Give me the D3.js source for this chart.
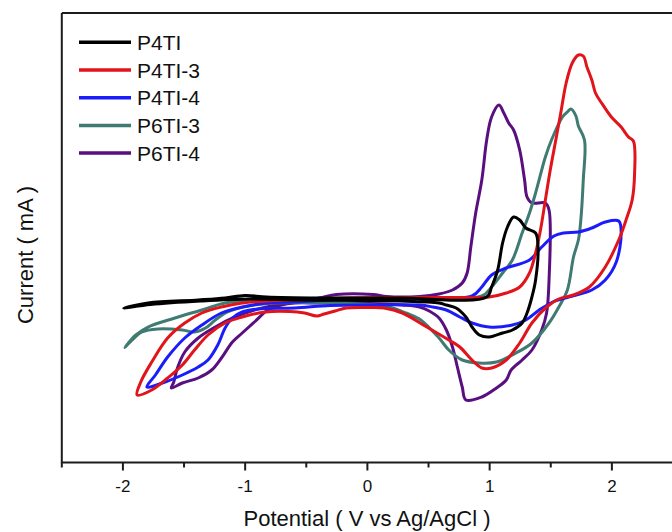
<!DOCTYPE html>
<html>
<head>
<meta charset="utf-8">
<script src="https://cdn.jsdelivr.net/npm/d3@7"></script>
<style>
  html, body { margin: 0; padding: 0; background: #fff; }
  svg { display: block; }
</style>
</head>
<body>
<svg id="chart" width="672" height="532"></svg>
<script>
// Cyclic voltammograms: [potential (V vs Ag/AgCl), current (mA, relative)]
const seriesNames = ["P4TI", "P4TI-3", "P4TI-4", "P6TI-3", "P6TI-4"];
const seriesColors = ["#000000", "#e1141c", "#1c1cfa", "#3f7a73", "#5a0f80"];
const xMajorTicks = [-2, -1, 0, 1, 2];
const xMinorTicks = [-2.5, -1.5, -0.5, 0.5, 1.5, 2.5];

const p4ti = [
  [-1.99, -0.08], [-1.79, -0.03], [-1.38, 0.00], [-1.16, 0.02], [-1.00, 0.045], [-0.82, 0.03],
  [-0.39, 0.02], [0.27, 0.02], [0.98, 0.03], [1.02, 0.13], [1.07, 0.30], [1.11, 0.57],
  [1.15, 0.73], [1.20, 0.83], [1.25, 0.80], [1.30, 0.72], [1.38, 0.67], [1.40, 0.53],
  [1.38, 0.20], [1.35, 0.03], [1.31, -0.13], [1.27, -0.23], [1.19, -0.30], [1.11, -0.33],
  [1.00, -0.37], [0.92, -0.35], [0.86, -0.27], [0.81, -0.17], [0.73, -0.08], [0.65, -0.05],
  [0.59, -0.03], [0.27, -0.01], [-0.55, 0.00], [-0.96, 0.01], [-1.36, -0.01], [-1.77, -0.045]
];

const p4ti3 = [
  [-1.88, -0.95], [-1.85, -0.82], [-1.76, -0.62], [-1.63, -0.38], [-1.49, -0.23], [-1.35, -0.13],
  [-1.19, -0.07], [-1.02, -0.03], [-0.81, -0.01], [-0.59, 0.00], [-0.14, 0.02], [0.27, 0.025],
  [0.67, 0.025], [1.00, 0.03], [1.14, 0.07], [1.25, 0.13], [1.33, 0.27], [1.38, 0.47],
  [1.42, 0.70], [1.46, 1.00], [1.50, 1.30], [1.55, 1.63], [1.59, 1.90], [1.63, 2.17],
  [1.68, 2.37], [1.73, 2.45], [1.77, 2.44], [1.80, 2.33], [1.84, 2.20], [1.87, 2.07],
  [1.92, 1.97], [2.00, 1.83], [2.08, 1.73], [2.14, 1.63], [2.18, 1.59],
  [2.19, 1.27], [2.17, 1.00], [2.12, 0.80], [2.06, 0.60], [1.95, 0.33], [1.82, 0.13],
  [1.69, 0.05], [1.57, 0.01], [1.47, -0.07], [1.35, -0.23], [1.25, -0.43], [1.14, -0.60],
  [1.02, -0.68], [0.94, -0.68], [0.86, -0.60], [0.76, -0.47], [0.67, -0.40], [0.49, -0.27],
  [0.29, -0.13], [0.14, -0.08], [0.02, -0.075], [-0.17, -0.08], [-0.26, -0.11], [-0.35, -0.14],
  [-0.41, -0.16], [-0.51, -0.13], [-0.63, -0.115], [-0.83, -0.12], [-1.02, -0.17], [-1.16, -0.23],
  [-1.30, -0.35], [-1.41, -0.50], [-1.51, -0.65], [-1.63, -0.78], [-1.76, -0.90]
];

const p4ti4 = [
  [-1.80, -0.87], [-1.73, -0.75], [-1.63, -0.57], [-1.49, -0.38], [-1.35, -0.25], [-1.19, -0.13],
  [-1.02, -0.07], [-0.81, -0.03], [-0.59, -0.02], [-0.30, 0.00], [0.27, 0.01], [0.86, 0.04],
  [0.94, 0.13], [1.02, 0.25], [1.14, 0.32], [1.33, 0.40], [1.43, 0.53], [1.53, 0.64],
  [1.61, 0.67], [1.73, 0.68], [1.84, 0.72], [1.95, 0.78], [2.06, 0.79],
  [2.08, 0.67], [2.04, 0.38], [1.95, 0.20], [1.84, 0.10], [1.65, 0.03], [1.52, -0.02],
  [1.41, -0.10], [1.30, -0.20], [1.19, -0.25], [1.00, -0.27], [0.86, -0.23], [0.76, -0.17],
  [0.65, -0.10], [0.54, -0.07], [0.43, -0.05], [0.10, -0.05], [-0.30, -0.055], [-0.59, -0.08],
  [-0.89, -0.09], [-1.02, -0.12], [-1.10, -0.18], [-1.16, -0.28], [-1.22, -0.45], [-1.30, -0.60],
  [-1.38, -0.67], [-1.51, -0.75], [-1.65, -0.82]
];

const p6ti3 = [
  [-1.98, -0.475], [-1.89, -0.35], [-1.79, -0.27], [-1.57, -0.18], [-1.35, -0.10], [-1.16, -0.03],
  [-0.92, 0.00], [-0.59, 0.015], [0.27, 0.02], [0.94, 0.04], [1.02, 0.13], [1.11, 0.27],
  [1.19, 0.40], [1.27, 0.67], [1.33, 0.87], [1.38, 1.07], [1.46, 1.43], [1.51, 1.60],
  [1.60, 1.83], [1.64, 1.88], [1.67, 1.91], [1.71, 1.84], [1.73, 1.74], [1.78, 1.60],
  [1.77, 1.20], [1.75, 0.80], [1.73, 0.60], [1.69, 0.43], [1.64, 0.10], [1.57, -0.07],
  [1.49, -0.23], [1.35, -0.43], [1.22, -0.53], [1.06, -0.62], [0.92, -0.63], [0.78, -0.60],
  [0.67, -0.50], [0.59, -0.38], [0.43, -0.19], [0.32, -0.13], [0.18, -0.07], [-0.06, -0.04],
  [-0.55, -0.025], [-0.75, -0.03], [-0.97, -0.06], [-1.14, -0.12], [-1.24, -0.20], [-1.32, -0.28],
  [-1.41, -0.32], [-1.51, -0.30], [-1.71, -0.29], [-1.84, -0.32], [-1.92, -0.40]
];

const p6ti4 = [
  [-1.60, -0.88], [-1.58, -0.82], [-1.55, -0.68], [-1.49, -0.52], [-1.38, -0.38], [-1.24, -0.27],
  [-1.08, -0.17], [-0.92, -0.10], [-0.75, -0.05], [-0.59, -0.015], [-0.39, 0.02], [-0.25, 0.055],
  [0.05, 0.055], [0.16, 0.035], [0.43, 0.035], [0.59, 0.06], [0.70, 0.10], [0.78, 0.17],
  [0.82, 0.27], [0.85, 0.53], [0.89, 0.87], [0.94, 1.20], [0.98, 1.60], [1.02, 1.83],
  [1.08, 1.95], [1.12, 1.87], [1.16, 1.77], [1.20, 1.70], [1.25, 1.50], [1.29, 1.20],
  [1.31, 1.03], [1.35, 0.97], [1.46, 0.97], [1.49, 0.90],
  [1.49, 0.20], [1.47, -0.13], [1.43, -0.30], [1.35, -0.50], [1.27, -0.60], [1.18, -0.70],
  [1.14, -0.80], [1.06, -0.88], [0.94, -0.97], [0.81, -1.00], [0.78, -0.87], [0.74, -0.67],
  [0.70, -0.47], [0.65, -0.30], [0.59, -0.18], [0.51, -0.11], [0.43, -0.07], [0.29, -0.05],
  [0.16, -0.04], [-0.12, -0.03], [-0.39, -0.03], [-0.59, -0.03], [-0.70, -0.05], [-0.81, -0.10],
  [-0.92, -0.22], [-1.02, -0.33], [-1.10, -0.42], [-1.19, -0.58], [-1.27, -0.70], [-1.38, -0.78],
  [-1.51, -0.83]
];

const seriesData = [p4ti, p4ti3, p4ti4, p6ti3, p6ti4];

const svg = d3.select("#chart");
const font = "'Liberation Sans', Arial, sans-serif";
const frameColor = "#1c1c1c";

const x = d3.scaleLinear().domain([-2.5, 2.5]).range([61.3, 672.5]);
const y = d3.scaleLinear().domain([-1.625, 2.875]).range([462.5, 12.5]);

// Curves, drawn so the first-listed series sits on top
const line = d3.line()
  .x(d => x(d[0]))
  .y(d => y(d[1]))
  .curve(d3.curveCatmullRomClosed.alpha(0.5));

const curves = svg.append("g");
d3.range(seriesData.length).reverse().forEach(i => {
  curves.append("path")
    .datum(seriesData[i])
    .attr("d", line)
    .attr("fill", "none")
    .attr("stroke", seriesColors[i])
    .attr("stroke-width", 3)
    .attr("stroke-linejoin", "round");
});

// Frame: bottom axis with ticks, plain left/top/right borders
const xAxis = svg.append("g")
  .attr("transform", `translate(0,${y.range()[0]})`)
  .call(d3.axisBottom(x).tickValues(xMajorTicks).tickSize(8).tickPadding(9).tickFormat(d3.format("d")));
xAxis.select(".domain").attr("stroke", frameColor).attr("stroke-width", 2)
  .attr("d", `M${x.range()[0]},0H${x.range()[1]}`);
xAxis.selectAll(".tick line").attr("stroke", frameColor).attr("stroke-width", 2);
xAxis.selectAll(".tick text")
  .attr("fill", "#111")
  .style("font-family", font)
  .style("font-size", "17px")
  .text(d => d < 0 ? "-" + Math.abs(d) : d);

const xMinor = svg.append("g")
  .attr("transform", `translate(0,${y.range()[0]})`)
  .call(d3.axisBottom(x).tickValues(xMinorTicks).tickSize(5).tickFormat(""));
xMinor.select(".domain").remove();
xMinor.selectAll(".tick line").attr("stroke", frameColor).attr("stroke-width", 2);

const yAxis = svg.append("g")
  .attr("transform", `translate(${x.range()[0]},0)`)
  .call(d3.axisLeft(y).tickValues([]).tickSizeOuter(0));
yAxis.select(".domain").attr("stroke", frameColor).attr("stroke-width", 2);

const topAxis = svg.append("g")
  .attr("transform", `translate(0,${y.range()[1]})`)
  .call(d3.axisTop(x).tickValues([]).tickSizeOuter(0));
topAxis.select(".domain").attr("stroke", frameColor).attr("stroke-width", 2);

const rightAxis = svg.append("g")
  .attr("transform", `translate(${x.range()[1]},0)`)
  .call(d3.axisRight(y).tickValues([]).tickSizeOuter(0));
rightAxis.select(".domain").attr("stroke", "#555").attr("stroke-width", 2);

// Axis titles
svg.append("text")
  .attr("x", 367).attr("y", 526)
  .attr("text-anchor", "middle")
  .attr("fill", "#111")
  .style("font-family", font).style("font-size", "22px")
  .text("Potential ( V vs Ag/AgCl )");

svg.append("text")
  .attr("transform", "translate(33,255) rotate(-90)")
  .attr("text-anchor", "middle")
  .attr("fill", "#111")
  .style("font-family", font).style("font-size", "22px")
  .text("Current ( mA )");

// Legend
const legend = svg.append("g");
seriesNames.forEach((name, i) => {
  const ry = 42.3 + i * 27.7;
  legend.append("line")
    .attr("x1", 79).attr("x2", 131).attr("y1", ry).attr("y2", ry)
    .attr("stroke", seriesColors[i]).attr("stroke-width", 3.5);
  legend.append("text")
    .attr("x", 137).attr("y", ry + 7.5)
    .attr("fill", "#111")
    .style("font-family", font).style("font-size", "21px")
    .text(name);
});
</script>
</body>
</html>
